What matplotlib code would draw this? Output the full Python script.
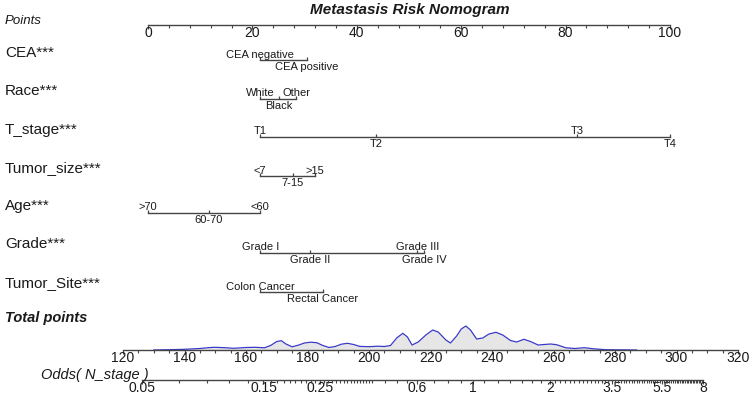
import matplotlib.pyplot as plt

plt.rcParams['font.family'] = ['Liberation Sans', 'DejaVu Sans']

# ---- data ----
row_names = ['CEA***', 'Race***', 'T_stage***', 'Tumor_size***', 'Age***', 'Grade***', 'Tumor_Site***']

cea_levels = ['CEA negative', 'CEA positive']
cea_points = [21.5, 30.4]
race_levels = ['White', 'Black', 'Other']
race_points = [21.5, 25.0, 28.4]
tstage_levels = ['T1', 'T2', 'T3', 'T4']
tstage_points = [21.5, 43.7, 82.2, 100.0]
size_levels = ['<7', '7-15', '>15']
size_points = [21.5, 27.7, 32.0]
age_levels = ['>70', '60-70', '<60']
age_points = [0.0, 11.6, 21.5]
grade_levels = ['Grade I', 'Grade II', 'Grade III', 'Grade IV']
grade_points = [21.5, 31.0, 51.6, 52.9]
site_levels = ['Colon Cancer', 'Rectal Cancer']
site_points = [21.5, 33.5]

points_ticks = [0, 20, 40, 60, 80, 100]
total_ticks = [120, 140, 160, 180, 200, 220, 240, 260, 280, 300, 320]
odds_ticks = [0.05, 0.15, 0.25, 0.6, 1, 2, 3.5, 5.5, 8]
odds_labels = ['0.05', '0.15', '0.25', '0.6', '1', '2', '3.5', '5.5', '8']

# density of total points (relative height)
total_x = [130, 135, 140, 145, 148, 150, 153, 156, 160, 163, 166, 168, 170, 171.5, 173, 175,
           177, 179, 181, 183, 185, 187, 189, 191, 193, 195, 197, 200, 203, 205, 207, 209,
           211, 212.5, 214, 216, 218.5, 220.7, 222.5, 225, 226.5, 228.5, 230, 231.5, 233,
           235, 237, 239, 241.3, 243.5, 246, 248, 250.4, 252.5, 255, 257, 259, 261, 264,
           267, 270, 273, 277, 287]
total_dens = [0, 0.3, 0.7, 1.5, 2.4, 2.7, 2.3, 1.7, 2.5, 2.7, 2.2, 4.5, 8.5, 9.3, 6, 3.2,
              4.8, 7, 7.8, 7.3, 4.5, 2.5, 3.5, 5.8, 6.7, 5.5, 3.6, 3.3, 3.8, 3.5, 4.5, 12,
              16.7, 13, 5, 8, 15, 20, 18, 10, 7, 14, 21, 24, 20,
              11, 12, 16, 17.7, 15, 9.5, 8, 10.7, 8.5, 5, 5.5, 6, 5.3, 2.2,
              1.5, 2.3, 1.2, 0.3, 0]

variables = [
    (cea_levels, cea_points),
    (race_levels, race_points),
    (tstage_levels, tstage_points),
    (size_levels, size_points),
    (age_levels, age_points),
    (grade_levels, grade_points),
    (site_levels, site_points),
]

# ---- layout (pixels) ----
W, H = 751, 397
P0, P100 = 148, 670          # points scale ends
label_y = [53, 91, 130, 168, 206, 244, 283]
line_y = [60, 99, 137, 176, 213, 253, 292]
line_col = '#444444'
txt_col = '#1a1a1a'

fig = plt.figure(figsize=(W / 100, H / 100), dpi=100)

def fx(px):
    return px / W

def fy(py):
    return 1 - py / H

# main axes: x in points, y in pixel rows
ax = fig.add_axes([0, 0, 1, 1])
ppx = (P100 - P0) / 100.0
ax.set_xlim(-P0 / ppx, (W - P0) / ppx)
ax.set_ylim(H, 0)
ax.axis('off')

for name, ly, y, (levels, pts) in zip(row_names, label_y, line_y, variables):
    fig.text(fx(5), fy(ly), name, fontsize=11, ha='left', va='center', color=txt_col)
    ax.plot([min(pts), max(pts)], [y, y], color=line_col, lw=1.0)
    ax.vlines(pts, y - 3, y, color=line_col, lw=0.9)
    order = sorted(range(len(pts)), key=lambda i: pts[i])
    for k, i in enumerate(order):
        if k % 2 == 0:
            ax.text(pts[i], y - 2.5, levels[i], fontsize=8, ha='center', va='baseline', color=txt_col)
        else:
            ax.text(pts[i], y + 10, levels[i], fontsize=8, ha='center', va='baseline', color=txt_col)

fig.text(fx(410), fy(10), 'Metastasis Risk Nomogram', fontsize=11, fontweight='bold',
         fontstyle='italic', ha='center', va='center', color=txt_col)
fig.text(fx(5), fy(21), 'Points', fontsize=9.5, fontstyle='italic', ha='left', va='center', color=txt_col)
fig.text(fx(5), fy(318), 'Total points', fontsize=10.5, fontweight='bold', fontstyle='italic',
         ha='left', va='center', color=txt_col)
fig.text(fx(149), fy(375), 'Odds( N_stage )', fontsize=10.5, fontstyle='italic',
         ha='right', va='center', color=txt_col)

def scale_axis(a):
    for s in ['top', 'left', 'right']:
        a.spines[s].set_visible(False)
    a.spines['bottom'].set_color(line_col)
    a.spines['bottom'].set_linewidth(1.0)
    a.set_yticks([])
    a.patch.set_alpha(0)
    a.tick_params(axis='x', which='major', direction='out', length=3, width=0.8,
                  pad=-2.5, labelsize=10, colors=line_col, labelcolor=txt_col)
    a.tick_params(axis='x', which='minor', direction='out', length=2, width=0.8, colors=line_col)

# points axis
axp = fig.add_axes([fx(P0), fy(25), fx(P100 - P0), 0.0001])
axp.set_xlim(0, 100)
axp.set_xticks(points_ticks)
axp.set_xticks([v for v in range(0, 101, 4) if v not in points_ticks], minor=True)
scale_axis(axp)

# total points axis with density
axt = fig.add_axes([fx(123), fy(350), fx(738 - 123), 30 / H])
axt.set_xlim(120, 320)
axt.set_ylim(0, 30)
axt.fill_between(total_x, total_dens, 0, color='#e6e6e6', lw=0)
axt.plot(total_x, total_dens, color='#3a3ac8', lw=0.9)
axt.set_xticks(total_ticks)
axt.set_xticks([v for v in range(120, 321, 5) if v not in total_ticks], minor=True)
scale_axis(axt)

# odds axis (log)
axo = fig.add_axes([fx(142), fy(380), fx(703 - 142), 0.0001])
axo.set_xscale('log')
axo.set_xlim(0.05, 8)
axo.set_xticks(odds_ticks)
axo.set_xticklabels(odds_labels)
odds_minor = ([0.07, 0.09, 0.11, 0.13]
              + [round(0.15 + 0.01 * i, 2) for i in range(26)]
              + [0.45, 0.5, 0.55, 0.7, 0.8, 0.9, 1.1, 1.25, 1.4, 1.55, 1.7, 1.85]
              + [round(2 + 0.1 * i, 1) for i in range(61)])
axo.set_xticks([v for v in odds_minor if v not in odds_ticks], minor=True)
axo.xaxis.set_minor_formatter(plt.NullFormatter())
scale_axis(axo)

fig.savefig('out.png', dpi=100)
